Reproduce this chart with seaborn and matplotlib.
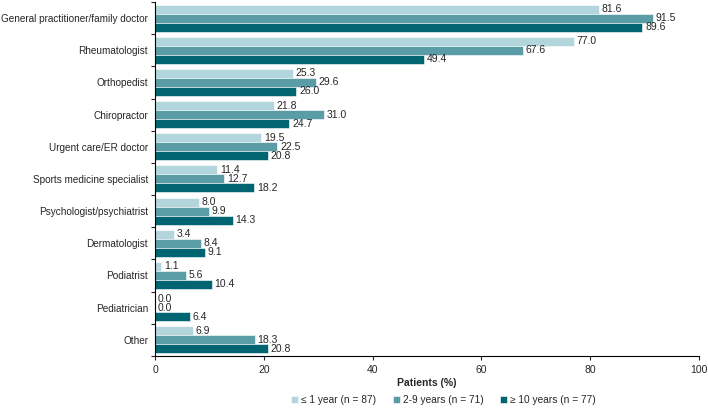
import matplotlib
matplotlib.use("Agg")
import matplotlib.pyplot as plt
import seaborn as sns
import pandas as pd
import numpy as np

categories = ["General practitioner/family doctor", "Rheumatologist", "Orthopedist",
              "Chiropractor", "Urgent care/ER doctor", "Sports medicine specialist",
              "Psychologist/psychiatrist", "Dermatologist", "Podiatrist", "Pediatrician", "Other"]
series = ["\u2264 1 year (n = 87)", "2-9 years (n = 71)", "\u2265 10 years (n = 77)"]
v1 = [81.6, 77.0, 25.3, 21.8, 19.5, 11.4, 8.0, 3.4, 1.1, 0.0, 6.9]
v2 = [91.5, 67.6, 29.6, 31.0, 22.5, 12.7, 9.9, 8.4, 5.6, 0.0, 18.3]
v3 = [89.6, 49.4, 26.0, 24.7, 20.8, 18.2, 14.3, 9.1, 10.4, 6.4, 20.8]
colors = ["#B3D5DC", "#5A9DA7", "#006571"]

rows = []
for s, vals in zip(series, [v1, v2, v3]):
    for c, v in zip(categories, vals):
        rows.append({"cat": c, "series": s, "val": v})
df = pd.DataFrame(rows)

sns.set_style("white")
plt.rcParams["font.family"] = ["Liberation Sans", "DejaVu Sans"]
plt.rcParams["font.size"] = 7

fig = plt.figure(figsize=(7.08, 4.09), dpi=100)
ax = fig.add_axes([0.219, 0.130, 0.768, 0.865])
sns.barplot(data=df, y="cat", x="val", hue="series", orient="h", palette=colors,
            saturation=1, width=0.84, gap=0, ax=ax, edgecolor="white", linewidth=0.4,
            legend=True)

for cont in ax.containers:
    ax.bar_label(cont, fmt="%.1f", padding=2, fontsize=7.5)

ax.set_xlim(0, 100)
ax.set_ylim(len(categories) - 0.5, -0.5)
ax.set_xticks([0, 20, 40, 60, 80, 100])
ax.set_xlabel("Patients (%)", fontweight="bold", fontsize=7.5, labelpad=2)
ax.set_ylabel("")
ax.tick_params(axis="y", length=0, labelsize=7.2, pad=5)
ax.tick_params(axis="x", length=3, width=0.8, labelsize=7.5, direction="out", bottom=True)
ax.set_yticks(np.arange(-0.5, len(categories), 1.0), minor=True)
ax.tick_params(axis="y", which="minor", length=3, width=0.8, left=True)
for sp in ["top", "right"]:
    ax.spines[sp].set_visible(False)
for sp in ["left", "bottom"]:
    ax.spines[sp].set_color("black")
    ax.spines[sp].set_linewidth(0.8)

ax.legend(loc="upper center", bbox_to_anchor=(0.53, -0.085), ncol=3, frameon=False,
          fontsize=7.3, handlelength=0.7, handleheight=0.7, handletextpad=0.3, columnspacing=1.6)

fig.savefig("out.png", dpi=100)
